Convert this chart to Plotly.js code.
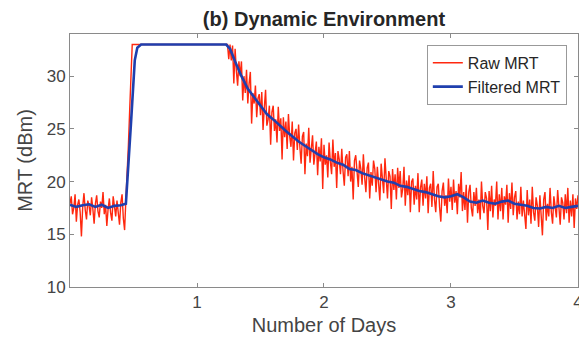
<!DOCTYPE html>
<html>
<head>
<meta charset="utf-8">
<script src="https://cdn.plot.ly/plotly-3.0.1.min.js"></script>
<style>html,body{margin:0;padding:0;background:#fff;}#chart{width:579px;height:339px;}</style>
</head>
<body>
<div id="chart"></div>
<script>
// Raw MRT sampled every 0.01 day from day 0 to day 4
const rawStepDays = 0.01;
const rawMRT = [
  // 0.00 - 0.44 baseline
  17.9, 18.6, 16.9, 17.5, 18.8, 16.2, 17.8, 18.3, 17.1, 14.8,
  17.6, 18.9, 17.3, 16.4, 18.2, 17.7, 16.8, 18.5, 17.4, 16.0,
  17.9, 18.7, 17.2, 16.6, 18.1, 17.5, 19.0, 16.9, 17.8, 15.8,
  17.4, 18.4, 17.0, 16.3, 18.6, 17.6, 16.7, 18.2, 17.3, 15.9,
  18.0, 18.8, 16.5, 15.4, 18.3,
  // 0.45 - 0.48 rise
  20.5, 23.5, 26.8, 30.2,
  // 0.49 - 1.23 saturated
  33, 33, 33, 33, 33, 33, 33, 33, 33, 33,
  33, 33, 33, 33, 33, 33, 33, 33, 33, 33,
  33, 33, 33, 33, 33, 33, 33, 33, 33, 33,
  33, 33, 33, 33, 33, 33, 33, 33, 33, 33,
  33, 33, 33, 33, 33, 33, 33, 33, 33, 33,
  33, 33, 33, 33, 33, 33, 33, 33, 33, 33,
  33, 33, 33, 33, 33, 33, 33, 33, 33, 33,
  33, 33, 33, 33, 33,
  // 1.24 - 1.29
  33.0, 31.6, 33.0, 31.5, 32.9, 29.3,
  // 1.30 -
  32.6, 30.5, 29.1, 31.4, 30.0, 31.4, 27.7, 30.0, 28.4, 30.6,
  27.4, 29.3, 30.4, 25.5, 28.4, 27.4, 29.1, 26.1, 27.9, 28.3,
  26.3, 28.5, 24.9, 27.0, 28.7, 25.3, 25.9, 27.2, 23.5, 26.6,
  27.2, 24.8, 25.9, 23.7, 27.1, 24.8, 26.0, 22.1, 26.1, 24.2,
  25.7, 23.1, 26.4, 24.3, 23.3, 25.7, 22.0, 24.6, 25.0, 23.0,
  25.4, 23.3, 21.7, 24.3, 24.7, 20.7, 23.6, 22.4, 25.1, 21.8,
  23.4, 24.4, 21.6, 22.5, 23.8, 20.6, 23.3, 21.9, 24.1, 19.3,
  // 2.00 -
  23.5, 21.6, 22.5, 20.4, 23.7, 21.9, 20.7, 24.0, 21.4, 22.7,
  19.4, 22.9, 22.1, 20.7, 23.1, 21.0, 19.6, 22.3, 22.6, 20.5,
  22.9, 20.0, 21.4, 18.3, 22.0, 22.5, 20.5, 19.5, 22.0, 21.2,
  19.7, 22.6, 20.4, 19.0, 21.3, 21.8, 18.4, 20.9, 19.6, 22.0,
  21.2, 19.0, 21.4, 19.7, 18.2, 21.7, 20.4, 18.9, 22.2, 19.6,
  18.4, 21.0, 20.5, 17.4, 21.2, 19.2, 20.7, 18.3, 21.3, 19.4,
  21.0, 18.5, 19.3, 21.4, 17.7, 20.1, 18.7, 20.6, 17.1, 20.0,
  20.3, 17.8, 19.6, 18.3, 20.8, 17.1, 19.4, 20.2, 17.7, 19.8,
  18.4, 20.5, 17.0, 19.4, 19.8, 17.6, 21.0, 18.3, 17.1, 19.5,
  19.8, 17.6, 16.2, 19.1, 19.9, 17.7, 18.7, 17.0, 20.3, 18.1,
  // 3.00 -
  19.5, 17.3, 20.2, 18.0, 19.1, 16.9, 19.8, 18.5, 20.9, 17.2,
  19.0, 17.3, 19.7, 16.1, 19.0, 19.7, 17.5, 16.7, 19.0, 17.7,
  19.4, 17.0, 18.3, 16.4, 20.0, 17.7, 17.0, 19.0, 18.4, 15.4,
  19.1, 17.2, 19.6, 16.6, 18.3, 17.7, 20.0, 16.4, 18.8, 17.2,
  19.4, 16.4, 18.6, 17.8, 19.7, 16.1, 18.9, 17.4, 19.9, 16.8,
  18.5, 19.1, 16.4, 18.1, 16.9, 19.5, 16.7, 18.2, 17.1, 15.5,
  19.2, 16.8, 18.3, 16.0, 19.5, 17.1, 16.3, 18.5, 17.7, 15.7,
  18.7, 16.9, 14.9, 18.3, 19.0, 16.3, 17.9, 16.7, 19.4, 17.1,
  16.0, 18.6, 17.7, 16.6, 19.2, 17.0, 15.9, 18.5, 18.0, 16.4,
  18.8, 17.0, 19.4, 16.1, 18.2, 16.7, 18.8, 15.6, 18.4, 17.4, 18.7
];
const rawDays = rawMRT.map((v, i) => +(i * rawStepDays).toFixed(2));

// Filtered MRT
const filteredDays = [0, 0.05, 0.1, 0.15, 0.2, 0.25, 0.3, 0.35, 0.4, 0.44, 0.48, 0.51, 0.53, 0.56,
  1.23, 1.26, 1.3, 1.35, 1.4, 1.45, 1.5, 1.55, 1.6, 1.65, 1.7, 1.75, 1.8, 1.85, 1.9, 1.95,
  2.0, 2.05, 2.1, 2.15, 2.2, 2.25, 2.3, 2.35, 2.4, 2.45, 2.5, 2.55, 2.6, 2.65, 2.7, 2.75,
  2.8, 2.85, 2.9, 2.95, 3.0, 3.05, 3.1, 3.15, 3.2, 3.25, 3.3, 3.35, 3.4, 3.45, 3.5, 3.55,
  3.6, 3.65, 3.7, 3.75, 3.8, 3.85, 3.9, 3.95, 4.0];
const filteredMRT = [17.8, 17.6, 17.75, 17.85, 17.6, 17.8, 17.5, 17.7, 17.75, 17.9, 25.5, 31.5, 32.7, 33,
  33, 32.6, 31.4, 30.0, 28.8, 28.0, 27.1, 26.4, 25.9, 25.3, 24.8, 24.3, 23.8, 23.4, 23.0, 22.6,
  22.3, 22.1, 21.8, 21.6, 21.2, 21.1, 20.8, 20.6, 20.4, 20.2, 20.0, 19.9, 19.6, 19.5, 19.3, 19.1,
  19.0, 18.8, 18.6, 18.5, 18.6, 18.8, 18.5, 18.1, 18.0, 18.2, 18.0, 17.9, 18.1, 18.2, 17.9, 17.8,
  17.7, 17.5, 17.45, 17.6, 17.5, 17.7, 17.5, 17.6, 17.7];

const xTickVals = [1, 2, 3, 4];
const yTickVals = [10, 15, 20, 25, 30];

const traces = [
  {x: rawDays, y: rawMRT, type: 'scatter', mode: 'lines', name: 'Raw MRT',
   line: {color: 'rgb(255,40,15)', width: 1.4}},
  {x: filteredDays, y: filteredMRT, type: 'scatter', mode: 'lines', name: 'Filtered MRT',
   line: {color: '#1f3fae', width: 2.6}}
];

const axisCommon = {
  showline: true, mirror: 'ticks', linecolor: '#8a8a8a', linewidth: 1,
  ticks: 'inside', ticklen: 4, tickcolor: '#8a8a8a', tickwidth: 1,
  showgrid: false, zeroline: false, ticklabeloverflow: 'allow',
  tickfont: {family: 'Liberation Sans, Arial, sans-serif', size: 17, color: '#444'}
};

const layout = {
  width: 579, height: 339,
  margin: {l: 70, r: 1, t: 34, b: 52},
  paper_bgcolor: '#fff', plot_bgcolor: '#fff',
  title: {text: '<b>(b) Dynamic Environment</b>', x: 0.5, xref: 'paper', y: 1 - 19 / 339, yref: 'container',
    yanchor: 'middle', font: {family: 'Liberation Sans, Arial, sans-serif', size: 20, color: '#262626'}},
  xaxis: Object.assign({}, axisCommon, {
    range: [0, 4.0001], tickvals: xTickVals, ticktext: xTickVals.map(String),
    title: {text: 'Number of Days', standoff: 6, font: {family: 'Liberation Sans, Arial, sans-serif', size: 20, color: '#444'}}
  }),
  yaxis: Object.assign({}, axisCommon, {
    range: [10, 34], tickvals: yTickVals, ticktext: yTickVals.map(String),
    title: {text: 'MRT (dBm)', standoff: 8, font: {family: 'Liberation Sans, Arial, sans-serif', size: 20, color: '#444'}}
  }),
  showlegend: true,
  legend: {x: 0.978, xanchor: 'right', y: 0.957, yanchor: 'top',
    bgcolor: '#fff', bordercolor: '#999', borderwidth: 1,
    font: {family: 'Liberation Sans, Arial, sans-serif', size: 16, color: '#262626'},
    tracegroupgap: 0, itemwidth: 30}
};

Plotly.newPlot('chart', traces, layout, {displayModeBar: false, staticPlot: true});
</script>
</body>
</html>
